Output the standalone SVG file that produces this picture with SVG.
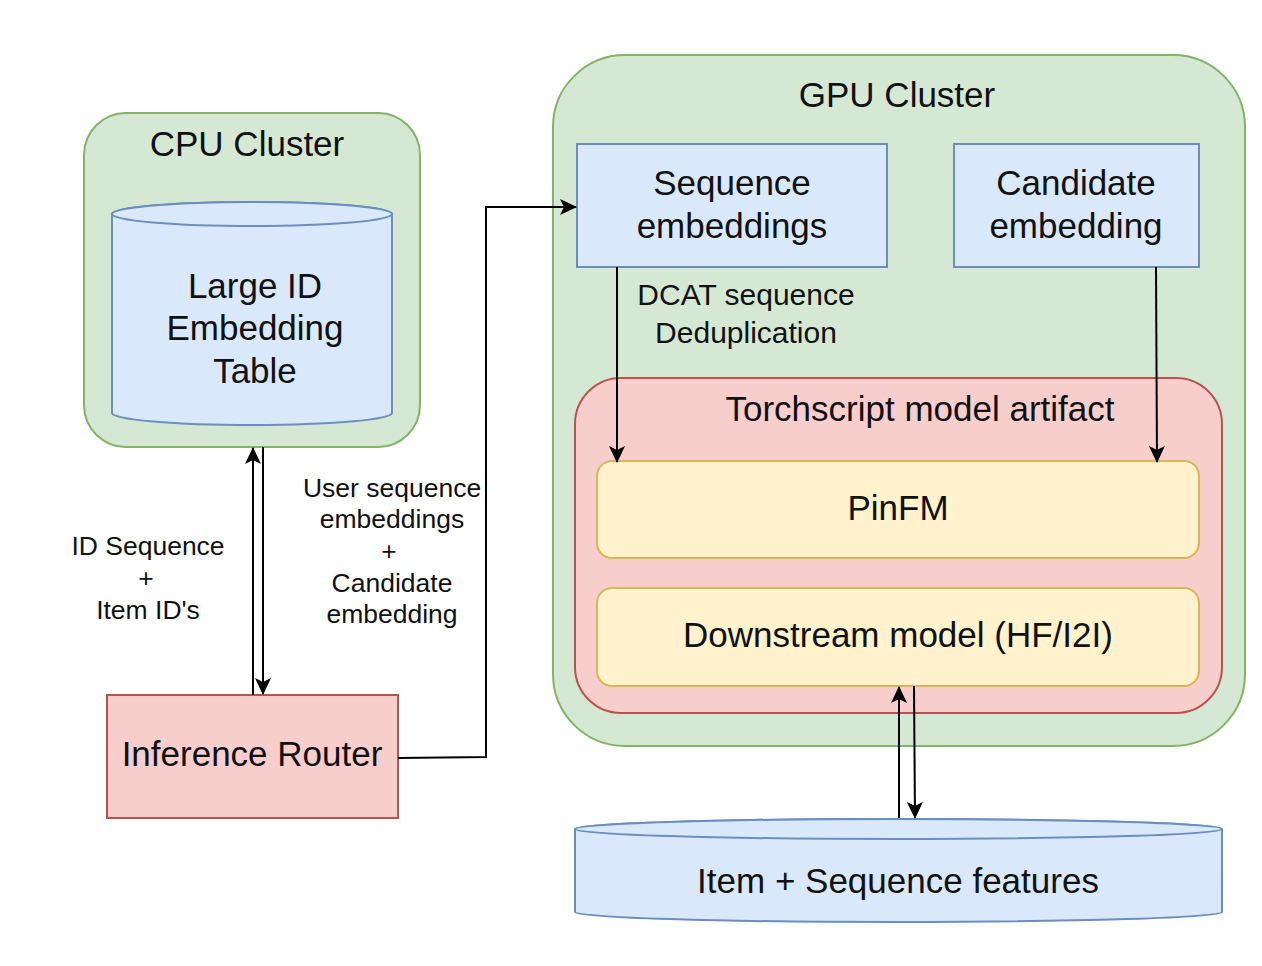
<svg xmlns="http://www.w3.org/2000/svg" width="1262" height="966" viewBox="0 0 1262 966">
<style>
text{font-family:"Liberation Sans",Arial,Helvetica,sans-serif;fill:#111;text-anchor:middle}
.big{font-size:35px}
.lbl{font-size:26.5px}
.mid{font-size:30px}
.green{fill:#d5e8d4;stroke:#82b366;stroke-width:2}
.blue{fill:#dae8fc;stroke:#6c8ebf;stroke-width:2}
.red{fill:#f8cecc;stroke:#b85450;stroke-width:2}
.yellow{fill:#fff2cc;stroke:#d6b656;stroke-width:2}
.edge{fill:none;stroke:#000;stroke-width:2}
</style>
<defs>
<marker id="arr" viewBox="0 0 17 16" refX="16" refY="8" markerWidth="17" markerHeight="16" markerUnits="userSpaceOnUse" orient="auto">
<path d="M0,0 L17,8 L0,16 L4,8 Z" fill="#000"/>
</marker>
</defs>
<rect width="1262" height="966" fill="#fff"/>
<g id="cpu-cluster">
<rect class="green" x="84" y="113" width="336" height="334" rx="42" ry="42"/>
<text class="big" x="247" y="156">CPU Cluster</text>
</g>
<g id="embedding-table">
<path class="blue" d="M112,214 L112,413 A140,12 0 0 0 392,413 L392,214 A140,12 0 0 0 112,214 Z"/>
<ellipse class="blue" cx="252" cy="214" rx="140" ry="12"/>
<text class="big" x="255" y="298">Large ID</text>
<text class="big" x="255" y="340">Embedding</text>
<text class="big" x="255" y="383">Table</text>
</g>
<g id="inference-router">
<rect class="red" x="107" y="695" width="291" height="123"/>
<text class="big" x="252" y="766">Inference Router</text>
</g>
<g id="gpu-cluster">
<rect class="green" x="553" y="55" width="692" height="691" rx="72" ry="72"/>
<text class="big" x="897" y="107">GPU Cluster</text>
</g>
<g id="sequence-embeddings">
<rect class="blue" x="577" y="144" width="310" height="123"/>
<text class="big" x="732" y="195">Sequence</text>
<text class="big" x="732" y="238">embeddings</text>
</g>
<g id="candidate-embedding">
<rect class="blue" x="954" y="144" width="245" height="123"/>
<text class="big" x="1076" y="195">Candidate</text>
<text class="big" x="1076" y="238">embedding</text>
</g>
<g id="torchscript">
<rect class="red" x="575" y="378" width="647" height="335" rx="46" ry="46"/>
<text class="big" x="920" y="421">Torchscript model artifact</text>
</g>
<g id="pinfm">
<rect class="yellow" x="597" y="461" width="602" height="97" rx="15" ry="15"/>
<text class="big" x="898" y="520">PinFM</text>
</g>
<g id="downstream">
<rect class="yellow" x="597" y="588" width="602" height="98" rx="15" ry="15"/>
<text class="big" x="898" y="647">Downstream model (HF/I2I)</text>
</g>
<g id="features">
<path class="blue" d="M575,829 L575,912 A323.5,10 0 0 0 1222,912 L1222,829 A323.5,10 0 0 0 575,829 Z"/>
<ellipse class="blue" cx="898.5" cy="829" rx="323.5" ry="10"/>
<text class="big" x="898" y="893">Item + Sequence features</text>
</g>
<g id="connectors">
<path class="edge" d="M253,695 L253,448" marker-end="url(#arr)"/>
<path class="edge" d="M263,447 L263,694" marker-end="url(#arr)"/>
<path class="edge" d="M398,758 L486,757 L486,207 L576,207" marker-end="url(#arr)"/>
<path class="edge" d="M617,267 L617,462" marker-end="url(#arr)"/>
<path class="edge" d="M1156,267 L1157,462" marker-end="url(#arr)"/>
<path class="edge" d="M899,818 L899,687" marker-end="url(#arr)"/>
<path class="edge" d="M914,686 L915,818" marker-end="url(#arr)"/>
<text class="lbl" x="148" y="555">ID Sequence</text>
<text class="lbl" x="146" y="587">+</text>
<text class="lbl" x="148" y="619">Item ID's</text>
<text class="lbl" x="392" y="497">User sequence</text>
<text class="lbl" x="392" y="528">embeddings</text>
<text class="lbl" x="389" y="560">+</text>
<text class="lbl" x="392" y="592">Candidate</text>
<text class="lbl" x="392" y="623">embedding</text>
<text class="mid" x="746" y="305">DCAT sequence</text>
<text class="mid" x="746" y="343">Deduplication</text>
</g>
</svg>
